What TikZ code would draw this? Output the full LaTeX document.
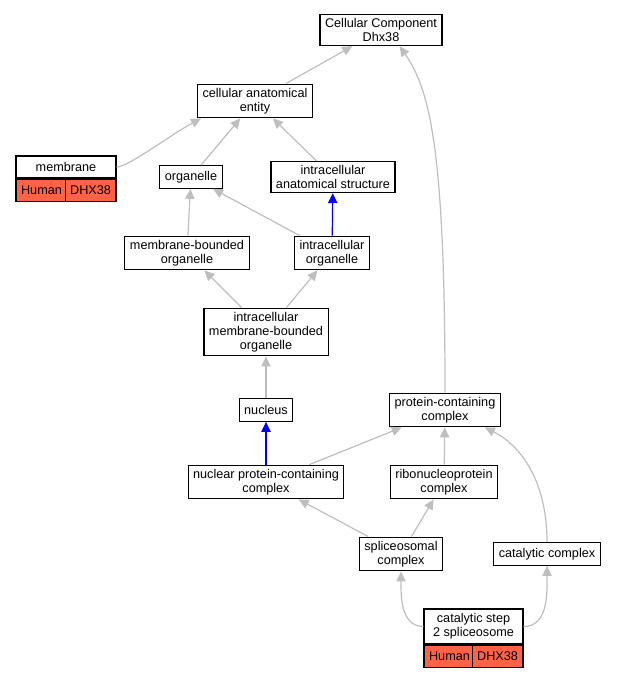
\documentclass[tikz,border=0pt]{standalone}
\usepackage{fontspec}
\setmainfont{Liberation Sans}
\usetikzlibrary{arrows.meta}
\usetikzlibrary{positioning}
\definecolor{edgegray}{HTML}{BEBEBE}
\definecolor{tomato}{HTML}{FF6347}

\tikzset{
  term/.style={rectangle, draw=black, line width=0.8pt, fill=white, align=center,
    inner xsep=3.75pt, inner ysep=3pt, minimum height=17pt,
    font=\fontsize{9.5}{10.5}\selectfont},
  tag/.style={term, fill=tomato, minimum height=16.5pt, inner ysep=0pt},
  isa/.style={draw=edgegray, line width=0.9pt, -{Triangle[length=7.5pt,width=7pt]}},
  partof/.style={draw=blue, line width=0.9pt, -{Triangle[length=7.5pt,width=7pt]}},
}

\begin{document}
\begin{tikzpicture}[x=0.75pt, y=0.75pt]
\useasboundingbox (0,0) rectangle (619,-677);
% terms
\node [term] (CC) at (381,-30) {Cellular Component\\Dhx38};
\node [term] (cae) at (255,-101) {cellular anatomical\\entity};
\node [term, minimum width=75pt, minimum height=16.5pt] (mem) at (66,-167) {membrane};
\node [tag, anchor=north west, minimum width=38.25pt] (memH) at (mem.south west) {Human};
\node [tag, anchor=north east, minimum width=36.75pt] (memD) at (mem.south east) {DHX38};
\node [term] (org) at (191,-177) {organelle};
\node [term] (ias) at (333,-177) {intracellular\\anatomical structure};
\node [term] (mbo) at (187,-253) {membrane-bounded\\organelle};
\node [term] (io) at (332,-253) {intracellular\\organelle};
\node [term] (imbo) at (266,-332) {intracellular\\membrane-bounded\\organelle};
\node [term] (nuc) at (266,-410) {nucleus};
\node [term] (pcc) at (445,-410) {protein-containing\\complex};
\node [term] (npcc) at (266,-482) {nuclear protein-containing\\complex};
\node [term] (rnp) at (444,-482) {ribonucleoprotein\\complex};
\node [term] (spl) at (401,-554) {spliceosomal\\complex};
\node [term] (cat) at (547,-554) {catalytic complex};
\node [term, minimum width=74.25pt, minimum height=26.25pt] (cs2) at (473.5,-626.5) {catalytic step\\2 spliceosome};
\node [tag, anchor=north west, minimum width=38.25pt] (cs2H) at (cs2.south west) {Human};
\node [tag, anchor=north east, minimum width=36pt] (cs2D) at (cs2.south east) {DHX38};
% is_a
\draw [isa] (cae) -- (CC);
\draw [isa] (pcc.north) .. controls (445,-150) and (430,-90) .. ([xshift=14pt]CC.south);
\draw [isa] (mem.east) .. controls +(12,0) and +(-30,-16) .. ([xshift=3pt]cae.south west);
\draw [isa] (org) -- (cae);
\draw [isa] (ias) -- (cae);
\draw [isa] (mbo) -- (org);
\draw [isa] (io) -- (org);
\draw [partof] (io) -- (ias);
\draw [isa] (imbo) -- (mbo);
\draw [isa] (imbo) -- (io);
\draw [isa] (nuc) -- (imbo);
\draw [partof] (npcc) -- (nuc);
\draw [isa] (npcc) -- (pcc);
\draw [isa] (rnp) -- (pcc);
\draw [isa] (spl) -- (npcc);
\draw [isa] (spl) -- (rnp);
\draw [isa] (cat.north) .. controls (547,-480) and (520,-445) .. ([xshift=-12pt]pcc.south east);
\draw [isa] (cs2.west) to[out=180, in=-90] (spl.south);
\draw [isa] (cs2.east) to[out=0, in=-90] (cat.south);
\end{tikzpicture}
\end{document}
